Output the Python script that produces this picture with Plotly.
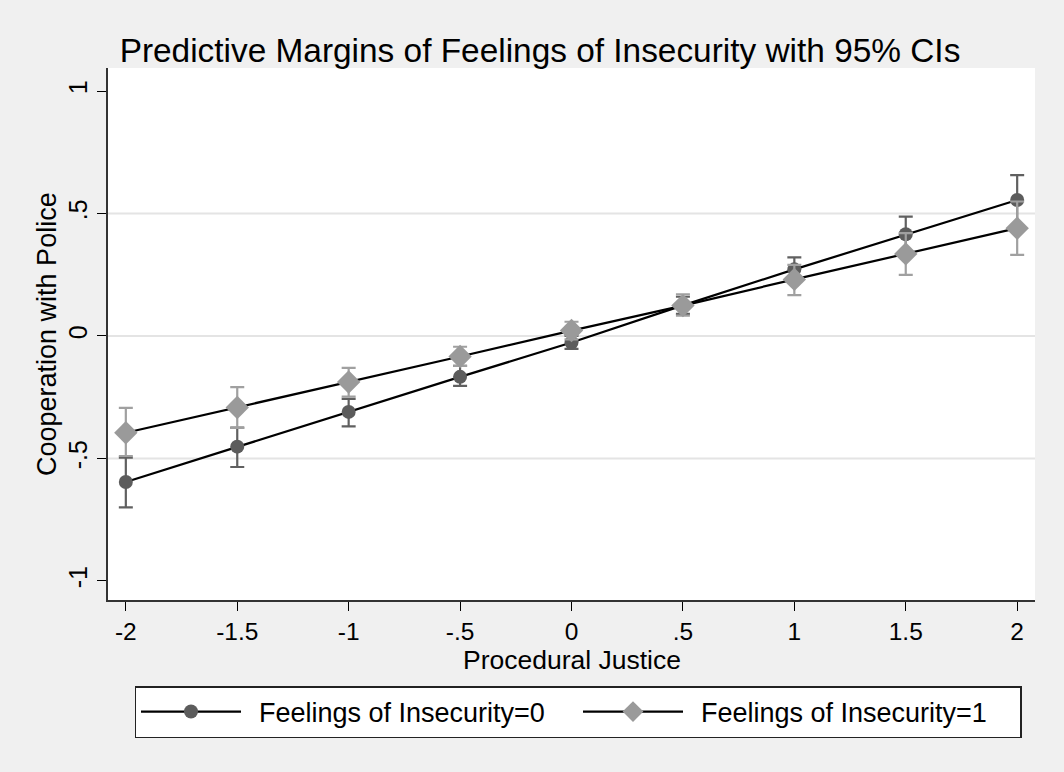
import plotly.graph_objects as go

x_vals = [-2, -1.5, -1, -0.5, 0, 0.5, 1, 1.5, 2]

margin0 = [-0.596, -0.452, -0.310, -0.167, -0.027, 0.125, 0.272, 0.415, 0.555]
lo0 = [-0.700, -0.535, -0.369, -0.204, -0.053, 0.090, 0.225, 0.343, 0.453]
hi0 = [-0.497, -0.374, -0.257, -0.122, 0.000, 0.160, 0.321, 0.487, 0.657]

margin1 = [-0.395, -0.292, -0.188, -0.084, 0.022, 0.124, 0.231, 0.335, 0.440]
lo1 = [-0.490, -0.375, -0.248, -0.122, -0.014, 0.083, 0.167, 0.249, 0.331]
hi1 = [-0.294, -0.209, -0.130, -0.044, 0.058, 0.170, 0.290, 0.420, 0.549]

x_ticks = [-2, -1.5, -1, -0.5, 0, 0.5, 1, 1.5, 2]
x_labels = ["-2", "-1.5", "-1", "-.5", "0", ".5", "1", "1.5", "2"]
y_ticks = [-1, -0.5, 0, 0.5, 1]
y_labels = ["-1", "-.5", "0", ".5", "1"]
grid_vals = [-0.5, 0, 0.5]

names = ["Feelings of Insecurity=0", "Feelings of Insecurity=1"]

FONT = "Liberation Sans, Arial, sans-serif"

fig = go.Figure()

def add_series(m, lo, hi, name, mcolor, ecolor, symbol, size):
    fig.add_trace(go.Scatter(
        x=x_vals, y=m, name="\u00a0\u2009" + name, mode="lines+markers",
        line=dict(color="black", width=2.2),
        marker=dict(color=mcolor, symbol=symbol, size=size, line=dict(width=0)),
        error_y=dict(type="data", symmetric=False,
                     array=[h - v for h, v in zip(hi, m)],
                     arrayminus=[v - l for v, l in zip(m, lo)],
                     color=ecolor, thickness=2.2, width=7),
    ))

add_series(margin0, lo0, hi0, names[0], "#5c5c5c", "#606060", "circle", 14)
add_series(margin1, lo1, hi1, names[1], "#9a9a9a", "#a0a0a0", "diamond", 18)

for g in grid_vals:
    fig.add_shape(type="line", xref="paper", yref="y", x0=0, x1=1, y0=g, y1=g,
                  line=dict(color="#e4e4e4", width=2), layer="below")

fig.add_annotation(text="Cooperation with Police", textangle=-90,
                   xref="paper", yref="paper", x=(47 - 108) / 927, y=0.5,
                   xanchor="center", yanchor="middle", showarrow=False,
                   font=dict(size=27, family=FONT, color="black"))

fig.add_annotation(text="Procedural Justice",
                   xref="paper", yref="paper", x=0.5, y=(600 - 660) / 532,
                   xanchor="center", yanchor="middle", showarrow=False,
                   font=dict(size=26.5, family=FONT, color="black"))

fig.update_layout(
    width=1064, height=772,
    paper_bgcolor="#f0f0f0", plot_bgcolor="white",
    margin=dict(l=108, r=29, t=68, b=172),
    font=dict(family=FONT, size=20, color="black"),
    title=dict(text="Predictive Margins of Feelings of Insecurity with 95% CIs",
               x=540/1064, xanchor="center", y=1-50/772, yanchor="middle",
               font=dict(size=33.4, family=FONT, color="black")),
    xaxis=dict(range=[-2.08, 2.08], tickvals=x_ticks, ticktext=x_labels,
               showgrid=False, zeroline=False, showline=True, linecolor="#333333",
               linewidth=1.5, ticks="outside", ticklen=9, tickcolor="black",
               automargin=False, tickfont=dict(size=24.5)),
    yaxis=dict(range=[-1.078, 1.094], tickvals=y_ticks, ticktext=y_labels,
               showgrid=False, zeroline=False, showline=True, linecolor="#333333",
               linewidth=1.5, ticks="outside", ticklen=9, tickcolor="black",
               tickangle=-90, automargin=False,
               tickfont=dict(size=25)),
    showlegend=True,
    legend=dict(orientation="h", x=578/1064, xanchor="center", xref="container",
                y=1-686/772, yanchor="top", yref="container",
                bgcolor="white", bordercolor="#222222", borderwidth=1.5,
                font=dict(size=27), itemwidth=100, entrywidth=327,
                itemclick=False),
)

fig.write_html("out.html", post_script="document.body.style.margin='0';",
               config={"displayModeBar": False})
